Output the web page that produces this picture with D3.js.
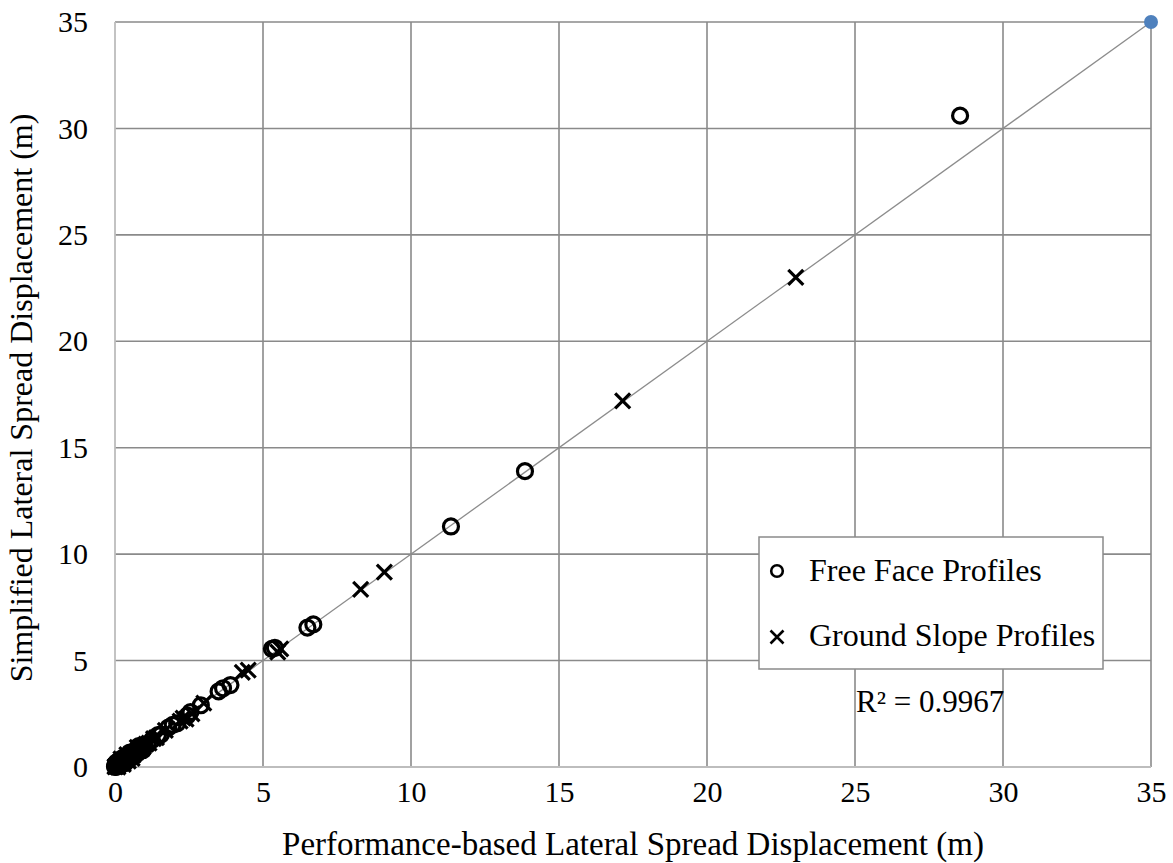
<!DOCTYPE html>
<html>
<head>
<meta charset="utf-8">
<script src="https://cdn.jsdelivr.net/npm/d3@7"></script>
<style>
  html, body { margin: 0; padding: 0; background: #fff; }
  text { font-family: "Liberation Serif", "Times New Roman", serif; fill: #000; }
</style>
</head>
<body>
<svg id="chart" width="1173" height="863"></svg>
<script>
// ---- Data ----
const xTicks = [0, 5, 10, 15, 20, 25, 30, 35];
const yTicks = [0, 5, 10, 15, 20, 25, 30, 35];
const xTitle = "Performance-based Lateral Spread Displacement (m)";
const yTitle = "Simplified Lateral Spread Displacement (m)";
const legendLabels = ["Free Face Profiles", "Ground Slope Profiles"];
const r2Label = "R² = 0.9967";

const freeFaceX = [0.00,0.01,0.02,0.03,0.04,0.05,0.06,0.08,0.09,0.10,0.12,0.13,0.15,0.17,0.18,0.20,0.22,0.23,0.26,0.28,0.30,0.33,0.36,0.38,0.40,0.44,0.48,0.52,0.57,0.62,0.68,0.75,0.82,0.90,1.00,1.10,1.25,1.45,1.55,1.80,1.95,2.10,2.45,2.55,2.90,3.50,3.65,3.90,5.30,5.40,6.50,6.70,11.35,13.85,28.55,0.05,0.15,0.25,0.35,0.50,0.65,0.80,0.95];
const freeFaceY = [0.02,0.05,0.00,0.08,0.06,0.03,0.04,0.10,0.05,0.08,0.14,0.09,0.13,0.18,0.20,0.18,0.20,0.25,0.24,0.31,0.27,0.35,0.34,0.40,0.42,0.43,0.50,0.51,0.58,0.64,0.66,0.77,0.80,0.92,1.02,1.08,1.27,1.50,1.52,1.85,1.98,2.05,2.42,2.58,2.90,3.55,3.70,3.85,5.55,5.60,6.55,6.70,11.30,13.90,30.60,0.22,0.32,0.42,0.20,0.68,0.50,0.98,0.80];

const groundSlopeX = [0.00,0.01,0.03,0.05,0.07,0.09,0.11,0.13,0.15,0.17,0.20,0.22,0.25,0.27,0.30,0.32,0.35,0.38,0.42,0.45,0.50,0.55,0.60,0.65,0.72,0.78,0.85,0.95,1.05,1.15,1.30,1.40,1.70,2.20,2.30,2.40,2.60,3.00,4.30,4.50,5.50,5.60,8.30,9.10,17.15,23.00,0.10,0.28,0.40,0.58,0.75,0.20,0.45];
const groundSlopeY = [0.01,0.03,0.05,0.03,0.08,0.10,0.09,0.12,0.16,0.19,0.17,0.21,0.24,0.29,0.27,0.31,0.36,0.40,0.39,0.44,0.52,0.54,0.58,0.66,0.70,0.80,0.88,0.93,1.08,1.12,1.33,1.38,1.72,2.15,2.30,2.25,2.50,3.00,4.45,4.55,5.40,5.55,8.35,9.15,17.20,23.00,0.00,0.12,0.58,0.40,0.92,0.38,0.28];

const trendX = [0, 35];
const trendY = [0, 35];
const endPointX = [35];
const endPointY = [35];

// ---- Layout ----
const W = 1173, H = 863;
const margin = { left: 115, right: 22, top: 22, bottom: 96 };
const svg = d3.select("#chart");

const x = d3.scaleLinear().domain([0, 35]).range([margin.left, W - margin.right]);
const y = d3.scaleLinear().domain([0, 35]).range([H - margin.bottom, margin.top]);

// gridlines
const grid = svg.append("g");
grid.selectAll("line.v").data(xTicks.filter(d => d !== 0)).enter().append("line")
  .attr("x1", d => x(d)).attr("x2", d => x(d))
  .attr("y1", y(0)).attr("y2", y(35))
  .attr("stroke", "#8a8a8a").attr("stroke-width", 1.6);
grid.selectAll("line.h").data(yTicks.filter(d => d !== 0)).enter().append("line")
  .attr("y1", d => y(d)).attr("y2", d => y(d))
  .attr("x1", x(0)).attr("x2", x(35))
  .attr("stroke", "#8a8a8a").attr("stroke-width", 1.6);
// axis lines
svg.append("line").attr("x1", x(0)).attr("x2", x(35)).attr("y1", y(0)).attr("y2", y(0))
  .attr("stroke", "#bdbdbd").attr("stroke-width", 1.8);
svg.append("line").attr("x1", x(0)).attr("x2", x(0)).attr("y1", y(0)).attr("y2", y(35))
  .attr("stroke", "#bdbdbd").attr("stroke-width", 1.8);

// axes via d3 axis (labels only)
const xAxis = svg.append("g").attr("transform", `translate(0,${y(0)})`)
  .call(d3.axisBottom(x).tickValues(xTicks).tickSize(0).tickPadding(14).tickFormat(d3.format("d")));
xAxis.select(".domain").remove();
xAxis.selectAll("text").style("font-size", "30px").style("font-family", "Liberation Serif");

const yAxis = svg.append("g").attr("transform", `translate(${x(0)},0)`)
  .call(d3.axisLeft(y).tickValues(yTicks).tickSize(0).tickPadding(27).tickFormat(d3.format("d")));
yAxis.select(".domain").remove();
yAxis.selectAll("text").style("font-size", "30px").style("font-family", "Liberation Serif");

// titles
svg.append("text").attr("x", 633).attr("y", 855).attr("text-anchor", "middle")
  .style("font-size", "33px").text(xTitle);
svg.append("text").attr("transform", `translate(32,${398}) rotate(-90)`).attr("text-anchor", "middle")
  .style("font-size", "32px").text(yTitle);

// trendline
const line = d3.line().x(d => x(d[0])).y(d => y(d[1]));
svg.append("path").datum(d3.zip(trendX, trendY)).attr("d", line)
  .attr("fill", "none").attr("stroke", "#8c8c8c").attr("stroke-width", 1.3);

// free face circles
svg.append("g").selectAll("circle").data(d3.zip(freeFaceX, freeFaceY)).enter().append("circle")
  .attr("cx", d => x(d[0])).attr("cy", d => y(d[1])).attr("r", 7.5)
  .attr("fill", "none").attr("stroke", "#000").attr("stroke-width", 3.2);

// ground slope crosses
const crossPath = (s) => `M${-s},${-s}L${s},${s}M${-s},${s}L${s},${-s}`;
svg.append("g").selectAll("path").data(d3.zip(groundSlopeX, groundSlopeY)).enter().append("path")
  .attr("transform", d => `translate(${x(d[0])},${y(d[1])})`)
  .attr("d", crossPath(7.5))
  .attr("fill", "none").attr("stroke", "#000").attr("stroke-width", 3.2);

// end point
svg.append("g").selectAll("circle").data(d3.zip(endPointX, endPointY)).enter().append("circle")
  .attr("cx", d => x(d[0])).attr("cy", d => y(d[1])).attr("r", 7)
  .attr("fill", "#4f81bd");

// legend
const lg = svg.append("g");
lg.append("rect").attr("x", 759).attr("y", 537).attr("width", 344).attr("height", 132)
  .attr("fill", "#fff").attr("stroke", "#8a8a8a").attr("stroke-width", 1.5);
lg.append("circle").attr("cx", 777).attr("cy", 571).attr("r", 5.8)
  .attr("fill", "none").attr("stroke", "#000").attr("stroke-width", 2.6);
lg.append("path").attr("transform", "translate(777,637)").attr("d", crossPath(6.5))
  .attr("fill", "none").attr("stroke", "#000").attr("stroke-width", 2.6);
lg.append("text").attr("x", 809).attr("y", 581).style("font-size", "32px").text(legendLabels[0]);
lg.append("text").attr("x", 809).attr("y", 646).style("font-size", "32px").text(legendLabels[1]);

svg.append("text").attr("x", 856).attr("y", 712).style("font-size", "31px").text(r2Label);
</script>
</body>
</html>
